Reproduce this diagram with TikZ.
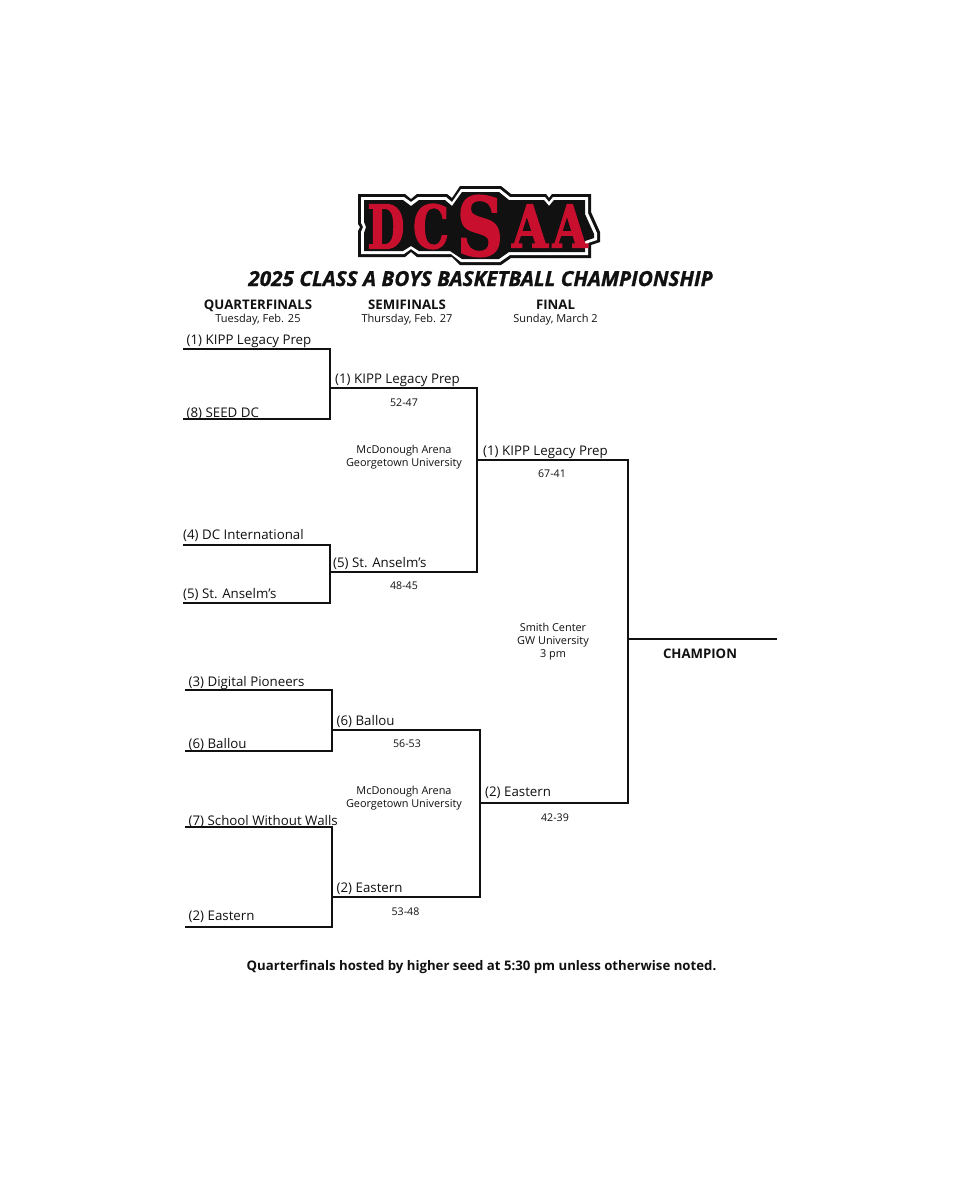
\documentclass[tikz,border=0pt]{standalone}
\usepackage{fontspec}
\setmainfont{Open Sans}
\newfontfamily\logofont[FakeBold=2.4]{DejaVu Serif Bold}
\newfontfamily\titlefont[FakeBold=1]{Open Sans Bold Italic}
\definecolor{dcred}{HTML}{C8102E}
\definecolor{ink}{HTML}{111111}
\tikzset{
  px/.style={x=1pt,y=-1pt},
  wire/.style={draw=ink,line width=2.6pt,line cap=rect,line join=miter},
  team/.style={anchor=base west,inner sep=0pt,font=\fontsize{13.3}{15}\selectfont,text=ink},
  score/.style={anchor=base,inner sep=0pt,font=\fontsize{10.6}{12}\selectfont,text=ink},
  venue/.style={anchor=north,inner sep=0pt,font=\fontsize{10.9}{13}\selectfont,text=ink,align=center},
  round/.style={anchor=base,inner sep=0pt,font=\fontsize{13.2}{15}\selectfont\bfseries,text=ink},
  date/.style={anchor=base,inner sep=0pt,font=\fontsize{11}{13}\selectfont,text=ink},
  logoletter/.style={inner sep=0pt,text=dcred,font=\logofont},
}
\begin{document}
\begin{tikzpicture}[px]
\useasboundingbox (0,0) rectangle (969,1200);
\fill[white] (0,0) rectangle (969,1200);
% logo plates
\fill[ink] (358,194) -- (405,194) -- (411,199) -- (417,194) -- (447,194) -- (452,198) -- (460,186) -- (501,186) -- (511,194) -- (546,194) -- (549,198) -- (552,194) -- (591,194) -- (591,212) -- (600,232) -- (600,242) -- (591,245) -- (591,258) -- (511,258) -- (501,265) -- (460,265) -- (452,257) -- (417,257) -- (411,252) -- (405,257) -- (358,257) -- (358,231) -- (360,227) -- (358,224) -- cycle;
\fill[white] (361,197) -- (404,197) -- (411,202) -- (418,197) -- (446,197) -- (452,202) -- (461,189) -- (500,189) -- (510,197) -- (545,197) -- (549,202) -- (553,197) -- (588,197) -- (588,213) -- (597,233) -- (597,240) -- (588,243) -- (588,255) -- (510,255) -- (500,262) -- (461,262) -- (451,254) -- (418,254) -- (411,249) -- (404,254) -- (361,254) -- (361,232) -- (363,227) -- (361,223) -- cycle;
\fill[ink] (364,200) -- (403,200) -- (411,206) -- (419,200) -- (445,200) -- (452,206) -- (462,192) -- (499,192) -- (509,200) -- (544,200) -- (549,206) -- (554,200) -- (585,200) -- (585,214) -- (594,234) -- (594,238) -- (585,241) -- (585,252) -- (509,252) -- (499,259) -- (462,259) -- (450,251) -- (419,251) -- (411,246) -- (403,251) -- (364,251) -- (364,233) -- (366,227) -- (364,222) -- cycle;
% logo letters
\node[logoletter] (logoD) at (386,226.5) {\resizebox{37pt}{44pt}{D}};
\node[logoletter] (logoC) at (431,226.5) {\resizebox{36pt}{44pt}{C}};
\node[logoletter] (logoS) at (480,226) {\resizebox{46pt}{60pt}{S}};
\node[logoletter] (logoA) at (530,226) {\resizebox{36pt}{43pt}{A}};
\node[logoletter] (logoB) at (570,226) {\resizebox{35pt}{43pt}{A}};
% title
\node[anchor=base,inner sep=0pt,text=ink,font=\titlefont\fontsize{20.7}{24}\selectfont] (title) at (480.5,286) {2025 CLASS A BOYS BASKETBALL CHAMPIONSHIP};
\node[round] (rq) at (258,309) {QUARTERFINALS};
\node[date] (dq) at (258,322) {Tuesday, Feb. 25};
\node[round] (rs) at (407,309) {SEMIFINALS};
\node[date] (ds) at (407,322) {Thursday, Feb. 27};
\node[round] (rf) at (555.5,309) {FINAL};
\node[date] (df) at (555.5,322) {Sunday, March 2};
% bracket points
\coordinate (a1) at (184,349); \coordinate (a1r) at (330,349);
\coordinate (a2) at (184,419); \coordinate (a2r) at (330,419);
\coordinate (a3) at (184,545); \coordinate (a3r) at (330,545);
\coordinate (a4) at (184,603); \coordinate (a4r) at (330,603);
\coordinate (a5) at (186,690); \coordinate (a5r) at (332,690);
\coordinate (a6) at (186,751); \coordinate (a6r) at (332,751);
\coordinate (a7) at (186,827); \coordinate (a7r) at (332,827);
\coordinate (a8) at (186,927); \coordinate (a8r) at (332,927);
\coordinate (b1) at (330,388); \coordinate (b1r) at (477,388);
\coordinate (b2) at (330,572); \coordinate (b2r) at (477,572);
\coordinate (b3) at (332,730); \coordinate (b3r) at (480,730);
\coordinate (b4) at (332,897); \coordinate (b4r) at (480,897);
\coordinate (c1) at (477,460); \coordinate (c1r) at (628,460);
\coordinate (c2) at (480,803); \coordinate (c2r) at (628,803);
\coordinate (d) at (628,639); \coordinate (dr) at (776,639);
\draw[wire] (a1) -- (a1r) -- (a2r) -- (a2);
\draw[wire] (a3) -- (a3r) -- (a4r) -- (a4);
\draw[wire] (a5) -- (a5r) -- (a6r) -- (a6);
\draw[wire] (a7) -- (a7r) -- (a8r) -- (a8);
\draw[wire] (b1) -- (b1r) -- (b2r) -- (b2);
\draw[wire] (b3) -- (b3r) -- (b4r) -- (b4);
\draw[wire] (c1) -- (c1r) -- (c2r) -- (c2);
\draw[wire] (d) -- (dr);
% teams
\node[team] (t1) at (186.5,344) {(1) KIPP Legacy Prep};
\node[team] (t2) at (186.5,417) {(8) SEED DC};
\node[team] (t3) at (183,539) {(4) DC International};
\node[team] (t4) at (183,598) {(5) St. Anselm’s};
\node[team] (t5) at (188.5,686) {(3) Digital Pioneers};
\node[team] (t6) at (188.5,748) {(6) Ballou};
\node[team] (t7) at (188.5,825) {(7) School Without Walls};
\node[team] (t8) at (188.5,920) {(2) Eastern};
\node[team] (s1) at (335,383) {(1) KIPP Legacy Prep};
\node[team] (s2) at (333,567) {(5) St. Anselm’s};
\node[team] (s3) at (336.5,725) {(6) Ballou};
\node[team] (s4) at (336.5,892) {(2) Eastern};
\node[team] (f1) at (483,455) {(1) KIPP Legacy Prep};
\node[team] (f2) at (485,796.5) {(2) Eastern};
% scores
\node[score] (m1) at (404,406) {52-47};
\node[score] (m2) at (404,589) {48-45};
\node[score] (m3) at (407,747) {56-53};
\node[score] (m4) at (405.5,915) {53-48};
\node[score] (m5) at (552,477) {67-41};
\node[score] (m6) at (555,821) {42-39};
% venues
\node[venue] (v1) at (404,445) {McDonough Arena\\Georgetown University};
\node[venue] (v2) at (404,786) {McDonough Arena\\Georgetown University};
\node[venue] (v3) at (553,623) {Smith Center\\GW University\\3 pm};
\node[round] (champ) at (700,658.5) {CHAMPION};
\node[anchor=base,inner sep=0pt,text=ink,font=\fontsize{13.2}{15}\selectfont\bfseries] (foot) at (481.5,970) {Quarterfinals hosted by higher seed at 5:30 pm unless otherwise noted.};
\end{tikzpicture}
\end{document}
